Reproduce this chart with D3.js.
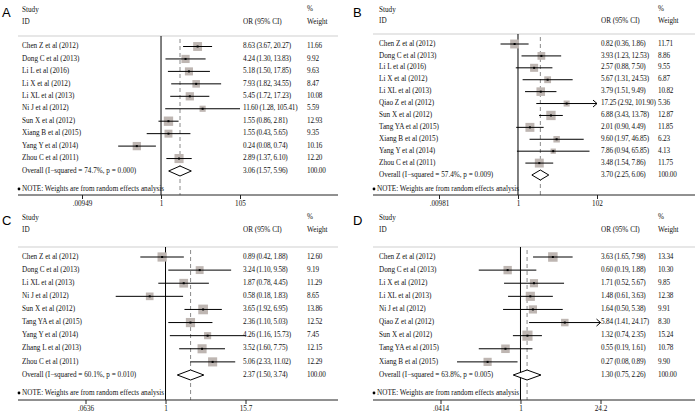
<!DOCTYPE html>
<html>
<head>
<meta charset="utf-8">
<script src="https://cdn.jsdelivr.net/npm/d3@7/dist/d3.min.js"></script>
<style>
  body { margin: 0; background: #fff; }
  text { font-family: "Liberation Serif", "Times New Roman", serif; font-size: 7.2px; fill: #111; }
  .num { letter-spacing: -0.2px; }
  .letter { font-family: "Liberation Sans", Arial, sans-serif; font-size: 13px; fill: #000; }
</style>
</head>
<body>
<svg id="chart" width="697" height="416"></svg>
<script>
// ---- panel A ----
var studiesA = ["Chen Z et al (2012)", "Dong C et al (2013)", "Li L et al (2016)", "Li X et al (2012)",
    "Li XL et al (2013)", "Ni J et al (2012)", "Sun X et al (2012)", "Xiang B et al (2015)",
    "Yang Y et al (2014)", "Zhou C et al (2011)"];
var orA = [8.63, 4.24, 5.18, 7.93, 5.45, 11.60, 1.55, 1.55, 0.24, 2.89];
var loA = [3.67, 1.30, 1.50, 1.82, 1.72, 1.28, 0.86, 0.43, 0.08, 1.37];
var hiA = [20.27, 13.83, 17.85, 34.55, 17.23, 105.41, 2.81, 5.65, 0.74, 6.10];
var weightA = [11.66, 9.92, 9.63, 8.47, 10.08, 5.59, 12.93, 9.35, 10.16, 12.20];
var overallA = [3.06, 1.57, 5.96];
var overallLabelA = "Overall  (I\u2212squared = 74.7%, p = 0.000)";
var ticksA = [0.00949, 1, 105];
var tickLabelsA = [".00949", "1", "105"];
var arrowsA = [];

// ---- panel B ----
var studiesB = ["Chen Z et al (2012)", "Dong C et al (2013)", "Li L et al (2016)", "Li X et al (2012)",
    "Li XL et al (2013)", "Qiao Z et al (2012)", "Sun X et al (2012)", "Tang YA et al (2015)",
    "Xiang B et al (2015)", "Yang Y et al (2014)", "Zhou C et al (2011)"];
var orB = [0.82, 3.93, 2.57, 5.67, 3.79, 17.25, 6.88, 2.01, 9.60, 7.86, 3.48];
var loB = [0.36, 1.23, 0.88, 1.31, 1.51, 2.92, 3.43, 0.90, 1.97, 0.94, 1.54];
var hiB = [1.86, 12.53, 7.50, 24.53, 9.49, 101.90, 13.78, 4.49, 46.85, 65.85, 7.86];
var weightB = [11.71, 8.86, 9.55, 6.87, 10.82, 5.36, 12.87, 11.85, 6.23, 4.13, 11.75];
var overallB = [3.70, 2.25, 6.06];
var overallLabelB = "Overall  (I\u2212squared = 57.4%, p = 0.009)";
var ticksB = [0.00981, 1, 102];
var tickLabelsB = [".00981", "1", "102"];
var arrowsB = ["Qiao Z et al (2012)"];

// ---- panel C ----
var studiesC = ["Chen Z et al (2012)", "Dong C et al (2013)", "Li XL et al (2013)", "Ni J et al (2012)",
    "Sun X et al (2012)", "Tang YA et al (2015)", "Yang Y et al (2014)", "Zhang L et al (2013)",
    "Zhou C et al (2011)"];
var orC = [0.89, 3.24, 1.87, 0.58, 3.65, 2.36, 4.26, 3.52, 5.06];
var loC = [0.42, 1.10, 0.78, 0.18, 1.92, 1.10, 1.16, 1.60, 2.33];
var hiC = [1.88, 9.58, 4.45, 1.83, 6.95, 5.03, 15.73, 7.75, 11.02];
var weightC = [12.60, 9.19, 11.29, 8.65, 13.86, 12.52, 7.45, 12.15, 12.29];
var overallC = [2.37, 1.50, 3.74];
var overallLabelC = "Overall  (I\u2212squared = 60.1%, p = 0.010)";
var ticksC = [0.0636, 1, 15.7];
var tickLabelsC = [".0636", "1", "15.7"];
var arrowsC = [];

// ---- panel D ----
var studiesD = ["Chen Z et al (2012)", "Dong C et al (2013)", "Li X et al (2012)", "Li XL et al (2013)",
    "Ni J et al (2012)", "Qiao Z et al (2012)", "Sun X et al (2012)", "Tang YA et al (2015)",
    "Xiang B et al (2015)"];
var orD = [3.63, 0.60, 1.71, 1.48, 1.64, 5.84, 1.32, 0.55, 0.27];
var loD = [1.65, 0.19, 0.52, 0.61, 0.50, 1.41, 0.74, 0.19, 0.08];
var hiD = [7.98, 1.88, 5.67, 3.63, 5.38, 24.17, 2.35, 1.61, 0.89];
var weightD = [13.34, 10.30, 9.85, 12.38, 9.91, 8.30, 15.24, 10.78, 9.90];
var overallD = [1.30, 0.75, 2.26];
var overallLabelD = "Overall  (I\u2212squared = 63.8%, p = 0.005)";
var ticksD = [0.0414, 1, 24.2];
var tickLabelsD = [".0414", "1", "24.2"];
var arrowsD = ["Qiao Z et al (2012)"];

var noteText = "NOTE: Weights are from random effects analysis";

var svg = d3.select("#chart");
var f2 = d3.format(".2f");
var boxSize = d3.scaleSqrt().domain([0, 16]).range([0, 10.4]);

function drawPanel(p) {
    var g = svg.append("g");
    var n = p.studies.length;

    var x = d3.scaleLog().domain([p.ticks[0], p.ticks[2]]).range(p.range);
    var y = d3.scalePoint().domain(d3.range(n + 1)).range([p.firstY, p.lastY]);

    // panel letter + headers
    g.append("text").attr("class", "letter").attr("x", p.letterX).attr("y", p.studyY + 4)
        .attr("dominant-baseline", "middle").text(p.letter);
    g.append("text").attr("x", p.labelX).attr("y", p.studyY).attr("dominant-baseline", "middle").text("Study");
    g.append("text").attr("x", p.labelX).attr("y", p.idY).attr("dominant-baseline", "middle").text("ID");
    g.append("text").attr("x", p.orX).attr("y", p.idY).attr("dominant-baseline", "middle").text("OR (95% CI)");
    g.append("text").attr("x", p.wX).attr("y", p.studyY - 1).attr("dominant-baseline", "middle").text("%");
    g.append("text").attr("x", p.wX).attr("y", p.idY).attr("dominant-baseline", "middle").text("Weight");

    g.append("line").attr("x1", p.x0).attr("x2", p.x1).attr("y1", p.sepY).attr("y2", p.sepY)
        .attr("stroke", "#cfcfcf").attr("stroke-width", 1);

    // reference line at 1 and dashed overall line
    g.append("line").attr("x1", x(1)).attr("x2", x(1)).attr("y1", p.sepY).attr("y2", p.axisY)
        .attr("stroke", "#000").attr("stroke-width", 1);
    g.append("line").attr("x1", x(p.overall[0])).attr("x2", x(p.overall[0]))
        .attr("y1", p.sepY + 3).attr("y2", p.axisY)
        .attr("stroke", "#8a8a8a").attr("stroke-width", 1).attr("stroke-dasharray", "4,3");

    var rows = p.studies.map(function(s, i) {
        return {label: s, or: p.or[i], lo: p.lo[i], hi: p.hi[i], w: p.weight[i], i: i,
            arrow: p.arrows.indexOf(s) >= 0};
    });
    var xMin = p.range[0], xMax = p.range[1];

    var row = g.selectAll(".row").data(rows).enter().append("g");

    row.append("rect")
        .attr("x", function(d) { return x(d.or) - boxSize(d.w) / 2; })
        .attr("y", function(d) { return y(d.i) - boxSize(d.w) / 2; })
        .attr("width", function(d) { return boxSize(d.w); })
        .attr("height", function(d) { return boxSize(d.w); })
        .attr("fill", "#beb6b2");
    row.append("line")
        .attr("x1", function(d) { return Math.max(xMin, x(d.lo)); })
        .attr("x2", function(d) { return d.arrow ? xMax : Math.min(xMax, x(d.hi)); })
        .attr("y1", function(d) { return y(d.i); })
        .attr("y2", function(d) { return y(d.i); })
        .attr("stroke", "#000").attr("stroke-width", 1);
    row.filter(function(d) { return d.arrow; }).append("path")
        .attr("d", function(d) {
            var yy = y(d.i);
            return "M" + (xMax - 4) + "," + (yy - 3.5) + "L" + xMax + "," + yy + "L" + (xMax - 4) + "," + (yy + 3.5);
        })
        .attr("fill", "none").attr("stroke", "#000").attr("stroke-width", 1);
    row.append("rect")
        .attr("x", function(d) { return x(d.or) - 1; })
        .attr("y", function(d) { return y(d.i) - 1; })
        .attr("width", 2).attr("height", 2).attr("fill", "#000");

    row.append("text").attr("x", p.labelX).attr("y", function(d) { return y(d.i); })
        .attr("dominant-baseline", "middle").text(function(d) { return d.label; });
    row.append("text").attr("class", "num").attr("x", p.orX).attr("y", function(d) { return y(d.i); })
        .attr("dominant-baseline", "middle")
        .text(function(d) { return f2(d.or) + " (" + f2(d.lo) + ", " + f2(d.hi) + ")"; });
    row.append("text").attr("class", "num").attr("x", p.wX).attr("y", function(d) { return y(d.i); })
        .attr("dominant-baseline", "middle").text(function(d) { return f2(d.w); });

    // overall diamond
    var yo = y(n);
    var o = p.overall;
    g.append("path")
        .attr("d", "M" + x(o[1]) + "," + yo + "L" + x(o[0]) + "," + (yo - 5) + "L" + x(o[2]) + "," + yo +
            "L" + x(o[0]) + "," + (yo + 5) + "Z")
        .attr("fill", "#fff").attr("stroke", "#000").attr("stroke-width", 1);
    g.append("text").attr("x", p.labelX).attr("y", yo).attr("dominant-baseline", "middle").text(p.overallLabel);
    g.append("text").attr("class", "num").attr("x", p.orX).attr("y", yo).attr("dominant-baseline", "middle")
        .text(f2(o[0]) + " (" + f2(o[1]) + ", " + f2(o[2]) + ")");
    g.append("text").attr("class", "num").attr("x", p.wX).attr("y", yo).attr("dominant-baseline", "middle").text("100.00");

    // note
    g.append("circle").attr("cx", p.x0 + 1).attr("cy", p.noteY).attr("r", 1.4).attr("fill", "#000");
    g.append("text").attr("x", p.x0 + 4).attr("y", p.noteY).attr("dominant-baseline", "middle").text(noteText);

    // x axis
    g.append("line").attr("x1", p.x0).attr("x2", p.x1).attr("y1", p.axisY).attr("y2", p.axisY)
        .attr("stroke", "#222").attr("stroke-width", 1);
    var axis = g.append("g").attr("transform", "translate(0," + p.axisY + ")")
        .call(d3.axisBottom(x).tickValues(p.ticks).tickSize(4).tickPadding(2)
            .tickFormat(function(d, i) { return p.tickLabels[i]; }));
    axis.select(".domain").remove();
    axis.selectAll("line").attr("stroke", "#222");
    axis.selectAll("text").attr("font-family", null).attr("font-size", null).attr("fill", "#111");
}

drawPanel({letter: "A", studies: studiesA, or: orA, lo: loA, hi: hiA, weight: weightA,
    overall: overallA, overallLabel: overallLabelA, ticks: ticksA, tickLabels: tickLabelsA, arrows: arrowsA,
    letterX: 2, x0: 18, x1: 338, labelX: 22, orX: 243, wX: 307, range: [82, 240],
    studyY: 10, idY: 22, sepY: 36, firstY: 46.5, lastY: 171, noteY: 189, axisY: 195});

drawPanel({letter: "B", studies: studiesB, or: orB, lo: loB, hi: hiB, weight: weightB,
    overall: overallB, overallLabel: overallLabelB, ticks: ticksB, tickLabels: tickLabelsB, arrows: arrowsB,
    letterX: 353, x0: 373, x1: 695, labelX: 379, orX: 601, wX: 658, range: [439, 597],
    studyY: 10, idY: 21.5, sepY: 34, firstY: 44, lastY: 175, noteY: 189, axisY: 195});

drawPanel({letter: "C", studies: studiesC, or: orC, lo: loC, hi: hiC, weight: weightC,
    overall: overallC, overallLabel: overallLabelC, ticks: ticksC, tickLabels: tickLabelsC, arrows: arrowsC,
    letterX: 2, x0: 18, x1: 338, labelX: 22, orX: 243, wX: 307, range: [85.5, 245.5],
    studyY: 218, idY: 230, sepY: 247, firstY: 257, lastY: 375, noteY: 393, axisY: 400});

drawPanel({letter: "D", studies: studiesD, or: orD, lo: loD, hi: hiD, weight: weightD,
    overall: overallD, overallLabel: overallLabelD, ticks: ticksD, tickLabels: tickLabelsD, arrows: arrowsD,
    letterX: 353, x0: 373, x1: 695, labelX: 379, orX: 601, wX: 658, range: [440.5, 600.5],
    studyY: 218, idY: 230, sepY: 247, firstY: 257, lastY: 375, noteY: 393, axisY: 400});
</script>
</body>
</html>
